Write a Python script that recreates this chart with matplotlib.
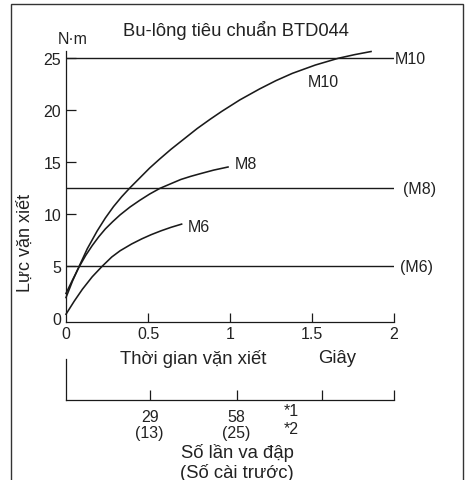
import matplotlib
matplotlib.use("Agg")
import matplotlib.pyplot as plt
from matplotlib.patches import Rectangle

plt.rcParams['font.family'] = ['Liberation Sans', 'DejaVu Sans']

# ---- data ----
m10_t = [0, 0.04, 0.08, 0.13, 0.19, 0.24, 0.29, 0.34, 0.39, 0.45, 0.51, 0.57, 0.64, 0.72, 0.8,
         0.88, 0.95, 1.06, 1.18, 1.28, 1.38, 1.52, 1.66, 1.76, 1.86]
m10_v = [2.0, 3.6, 5.0, 6.7, 8.4, 9.65, 10.75, 11.7, 12.55, 13.5, 14.45, 15.3, 16.25, 17.25, 18.25,
         19.15, 19.9, 21.0, 22.05, 22.85, 23.55, 24.35, 25.0, 25.35, 25.65]
m8_t = [0, 0.04, 0.08, 0.12, 0.16, 0.2, 0.24, 0.285, 0.33, 0.39, 0.45, 0.51, 0.573, 0.64, 0.7,
        0.76, 0.817, 0.9, 0.988]
m8_v = [2.4, 3.7, 4.95, 6.05, 7.0, 7.85, 8.6, 9.3, 9.95, 10.7, 11.35, 11.95, 12.5, 12.95, 13.35,
        13.65, 13.9, 14.25, 14.55]
m6_t = [0, 0.05, 0.1, 0.16, 0.22, 0.279, 0.33, 0.4, 0.463, 0.52, 0.58, 0.64, 0.705]
m6_v = [0.4, 1.65, 2.8, 4.0, 5.0, 5.9, 6.5, 7.15, 7.65, 8.05, 8.42, 8.75, 9.06]

std_torque = [25, 12.5, 5]
std_labels = ["M10", "(M8)", "(M6)"]

x_ticks = [0, 0.5, 1, 1.5, 2]
x_ticklabels = ["0", "0.5", "1", "1.5", "2"]
y_ticks = [0, 5, 10, 15, 20, 25]
y_ticklabels = ["0", "5", "10", "15", "20", "25"]

impact_ticks = [0.51, 1.04, 1.56, 2.0]
impact_labels = ["29\n(13)", "58\n(25)", "", ""]

W, H = 467, 481
fig = plt.figure(figsize=(W / 100, H / 100), dpi=100)

def fx(px):
    return px / W

def fy(py):
    return 1 - py / H

ink = "#1a1a1a"
tc = "#222222"

# outer border
fig.patches.append(Rectangle((fx(11), fy(H + 5)), fx(463) - fx(11), fy(5) - fy(H + 5),
                             transform=fig.transFigure, fill=False, lw=1.0, ec="#333333"))

# main axes
ax = fig.add_axes([fx(66), fy(322.5), fx(394) - fx(66), (322.5 - 52) / H])
ax.set_xlim(0, 2)
ax.set_ylim(-0.3, 25.7)
for s in ["top", "right"]:
    ax.spines[s].set_visible(False)
for s in ["left", "bottom"]:
    ax.spines[s].set_linewidth(0.9)
    ax.spines[s].set_color(ink)

ax.plot(m10_t, m10_v, color=ink, lw=1.15, clip_on=False)
ax.plot(m8_t, m8_v, color=ink, lw=1.15, clip_on=False)
ax.plot(m6_t, m6_v, color=ink, lw=1.15, clip_on=False)
ax.hlines(std_torque, 0, 2, color=ink, lw=1.0)

label_x = [2.006, 2.055, 2.037]
for yv, lab, lx in zip(std_torque, std_labels, label_x):
    ax.text(lx, yv, lab, ha="left", va="center", fontsize=11.5, color=tc, clip_on=False)

ax.text(1.567, 22.8, "M10", ha="center", va="center", fontsize=11.5, color=tc)
ax.text(1.03, 14.85, "M8", ha="left", va="center", fontsize=11.5, color=tc)
ax.text(0.744, 8.8, "M6", ha="left", va="center", fontsize=11.5, color=tc)

ax.set_xticks(x_ticks)
ax.set_xticklabels(x_ticklabels)
ax.set_yticks(y_ticks)
ax.set_yticklabels(y_ticklabels)
ax.tick_params(axis="x", direction="in", length=6.5, width=0.9, pad=3.5, labelsize=11.5,
               colors=ink, labelcolor=tc)
ax.tick_params(axis="y", direction="in", length=7.2, width=0.9, pad=3.5, labelsize=11.5,
               colors=ink, labelcolor=tc)
ax.yaxis.get_major_ticks()[0].tick1line.set_visible(False)
ax.xaxis.get_major_ticks()[0].tick1line.set_visible(False)

# secondary axis (impact count)
ax2 = fig.add_axes([fx(66), fy(401), fx(394) - fx(66), (401 - 360) / H])
ax2.set_xlim(0, 2)
ax2.set_ylim(0, 1)
ax2.patch.set_visible(False)
for s in ["top", "right"]:
    ax2.spines[s].set_visible(False)
for s in ["left", "bottom"]:
    ax2.spines[s].set_linewidth(0.9)
    ax2.spines[s].set_color(ink)
ax2.set_yticks([])
ax2.set_xticks(impact_ticks)
ax2.set_xticklabels(impact_labels, linespacing=1.12)
ax2.tick_params(axis="x", direction="in", length=7.5, width=0.9, pad=6.5, labelsize=11.5,
                colors=ink, labelcolor=tc)

# texts
fig.text(fx(236), fy(30), "Bu-lông tiêu chuẩn BTD044", ha="center", va="center", fontsize=13.2, color=tc)
fig.text(fx(73), fy(40), "N·m", ha="center", va="center", fontsize=11.5, color=tc)
fig.text(fx(25), fy(243), "Lực vặn xiết", ha="center", va="center", rotation=90, fontsize=13, color=tc)
fig.text(fx(193), fy(359), "Thời gian vặn xiết", ha="center", va="center", fontsize=13.3, color=tc)
fig.text(fx(337), fy(359), "Giây", ha="center", va="center", fontsize=13.3, color=tc)
fig.text(fx(291), fy(420), "*1\n*2", ha="center", va="center", fontsize=11.5, color=tc, linespacing=1.25)
fig.text(fx(237), fy(463), "Số lần va đập\n(Số cài trước)", ha="center", va="center", fontsize=13.3,
         color=tc, linespacing=1.08)

fig.savefig("out.png", dpi=100)
